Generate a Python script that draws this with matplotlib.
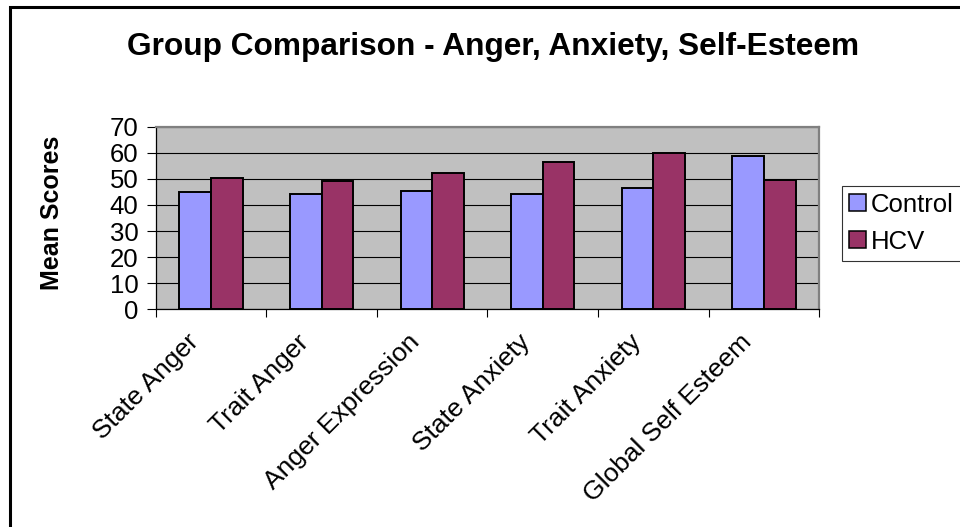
import matplotlib
matplotlib.use("Agg")
import matplotlib.pyplot as plt
import matplotlib.transforms as mtransforms
from matplotlib.patches import Rectangle, Patch
import numpy as np

categories = ["State Anger", "Trait Anger", "Anger Expression",
              "State Anxiety", "Trait Anxiety", "Global Self Esteem"]
control = [45.1, 44.3, 45.2, 44.3, 46.6, 58.9]
hcv = [50.4, 49.0, 52.1, 56.6, 59.8, 49.7]
series_names = ["Control", "HCV"]
yticks = [0, 10, 20, 30, 40, 50, 60, 70]

title = "Group Comparison - Anger, Anxiety, Self-Esteem"
ylabel = "Mean Scores"

plt.rcParams['font.family'] = ['Liberation Sans', 'DejaVu Sans']

W, H = 960, 527
fig = plt.figure(figsize=(W / 100, H / 100), dpi=100)
fig.patch.set_facecolor("white")

# plot area in pixel coordinates
L, R, T, B = 155.7, 819.3, 126.7, 309.3
ax = fig.add_axes([L / W, 1 - B / H, (R - L) / W, (B - T) / H])
ax.set_facecolor("#C0C0C0")

n = len(categories)
x = np.arange(n)
bw = 0.285
c_ctrl = "#9999FF"
c_hcv = "#993366"
ax.bar(x - bw / 2, control, bw, color=c_ctrl, edgecolor="black", linewidth=1.4, zorder=3)
ax.bar(x + bw / 2, hcv, bw, color=c_hcv, edgecolor="black", linewidth=1.4, zorder=3)

ax.set_xlim(-0.5, n - 0.5)
ax.set_ylim(0, 70)
ax.set_yticks(yticks)
ax.set_yticklabels([str(v) for v in yticks], fontsize=18.5)
ax.yaxis.grid(True, color="black", linewidth=0.8, zorder=1)
ax.set_axisbelow(True)

ax.tick_params(axis="y", direction="out", length=6.5, width=0.8, pad=6, color="black")

# category labels at centers, tick marks at boundaries
ax.set_xticks(x)
ax.set_xticklabels(categories, fontsize=19, rotation=45, ha="right", va="center",
                   rotation_mode="anchor")
ax.tick_params(axis="x", which="major", length=0, pad=21)
ax.set_xticks(np.arange(-0.5, n, 1.0), minor=True)
ax.tick_params(axis="x", which="minor", direction="out", length=5.5, width=0.8, color="black")
offset = mtransforms.ScaledTranslation(-16 / 100, 0, fig.dpi_scale_trans)
for lbl in ax.get_xticklabels():
    lbl.set_transform(lbl.get_transform() + offset)

for s in ["top", "right"]:
    ax.spines[s].set_color("#808080")
    ax.spines[s].set_linewidth(1.6)
for s in ["left", "bottom"]:
    ax.spines[s].set_color("black")
    ax.spines[s].set_linewidth(0.9)
ax.spines["bottom"].set_zorder(4)

# title and y label
fig.text(493 / W, 1 - 55 / H, title, fontsize=22.8, fontweight="bold",
         ha="center", va="baseline")
fig.text(52.5 / W, 1 - 213 / H, ylabel, fontsize=18, fontweight="bold",
         rotation=90, ha="center", va="center")

# legend (box runs past the right edge like the reference)
handles = [Patch(facecolor=c_ctrl, edgecolor="black", linewidth=1.1),
           Patch(facecolor=c_hcv, edgecolor="black", linewidth=1.1)]
leg = fig.legend(handles, series_names, loc="upper left", mode="expand",
                 bbox_to_anchor=(842 / W, 1 - 272 / H, 200 / W, 86 / H),
                 fontsize=18.5, frameon=True, fancybox=False, borderpad=0.27,
                 handlelength=0.65, handleheight=0.65, handletextpad=0.2,
                 labelspacing=0.5, borderaxespad=0)
leg.get_frame().set_edgecolor("black")
leg.get_frame().set_linewidth(0.8)

# outer chart frame (extends beyond right/bottom)
fig.add_artist(Rectangle((9.5 / W, -0.1), 1.2, 1 - 7 / H + 0.1,
                         transform=fig.transFigure, fill=False,
                         edgecolor="black", linewidth=2.2))

fig.savefig("out.png", dpi=100)
